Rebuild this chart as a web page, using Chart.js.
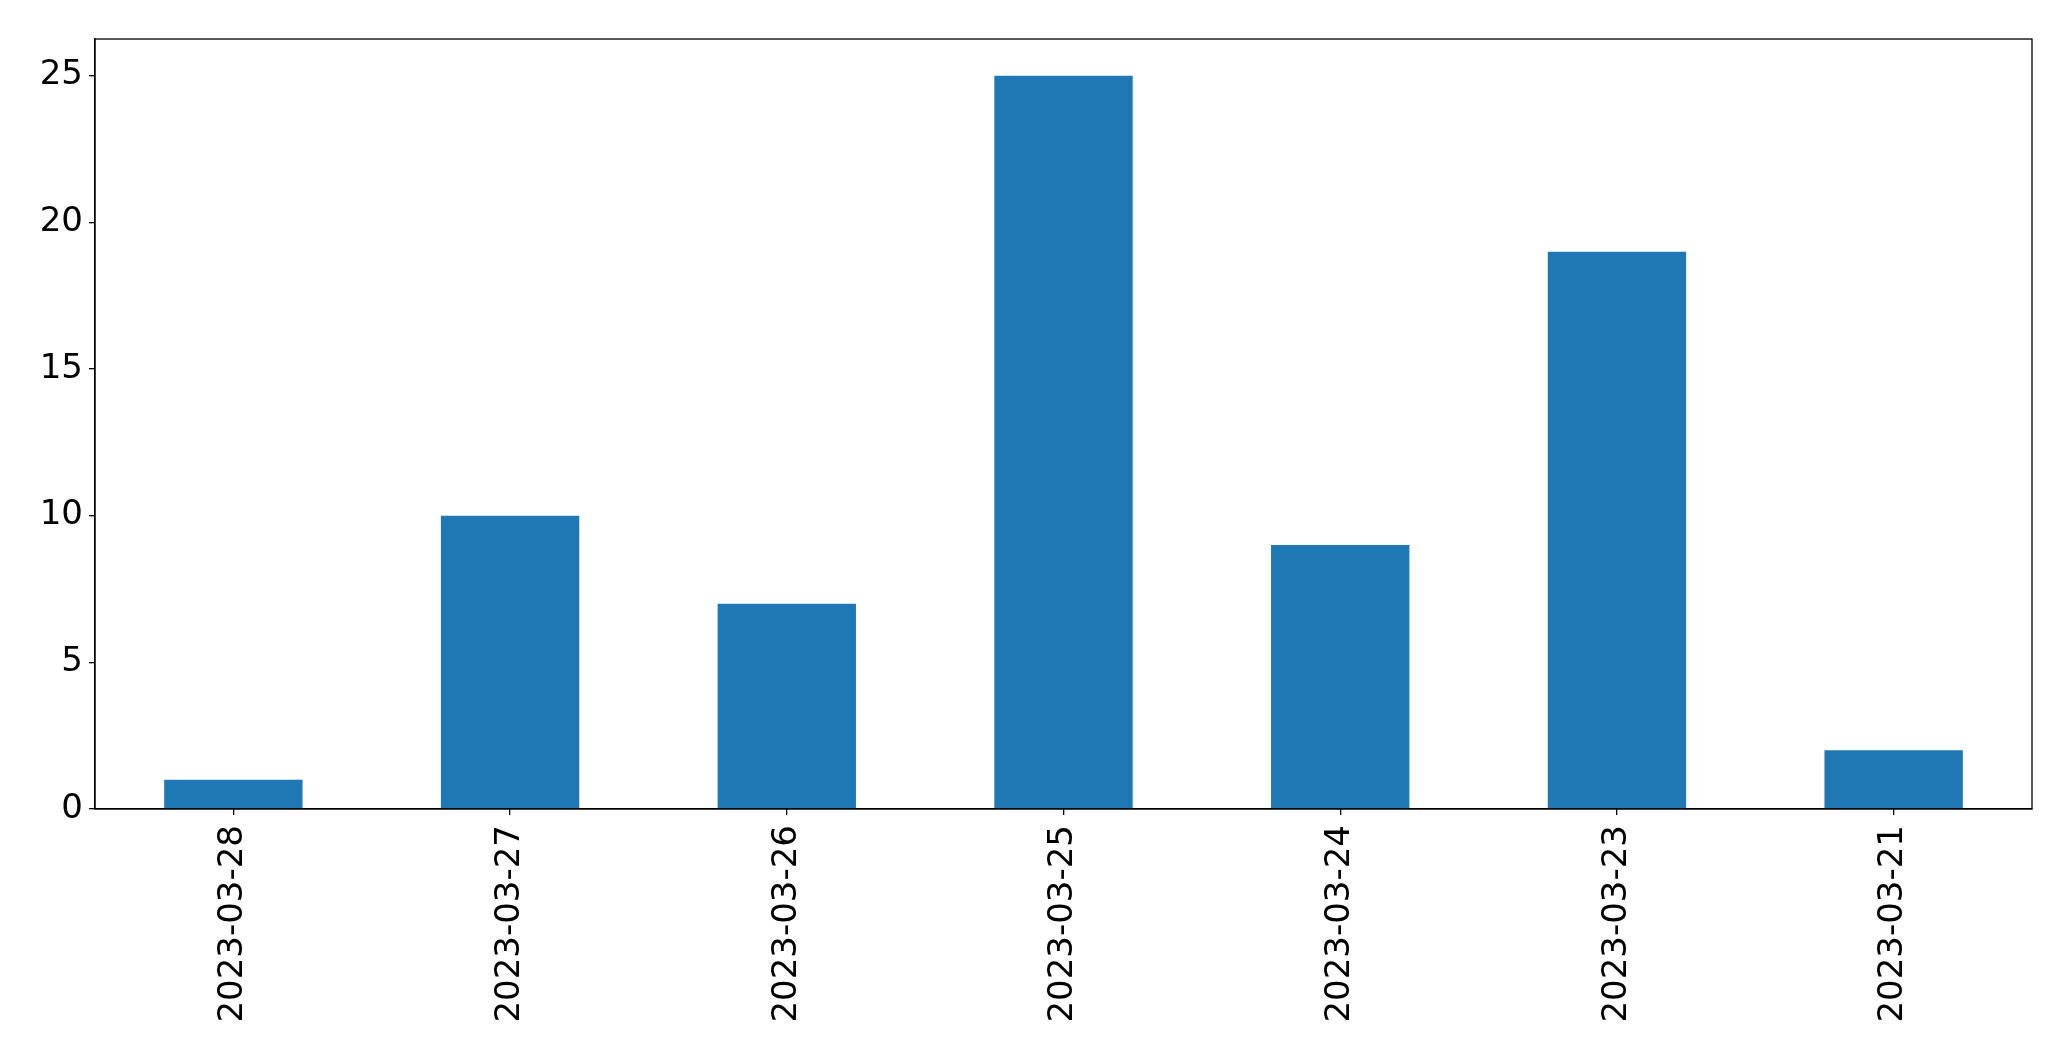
<!DOCTYPE html>
<html>
<head>
<meta charset="utf-8">
<script src="https://cdn.jsdelivr.net/npm/chart.js@4/dist/chart.umd.min.js"></script>
<style>
  html, body { margin: 0; padding: 0; background: #fff; }
  canvas { display: block; }
</style>
</head>
<body>
<canvas id="chart" width="2071" height="1061"></canvas>
<script>
// chart data
const dates = ['2023-03-28', '2023-03-27', '2023-03-26', '2023-03-25', '2023-03-24', '2023-03-23', '2023-03-21'];
const counts = [1, 10, 7, 25, 9, 19, 2];
const yTicks = [0, 5, 10, 15, 20, 25];

// draw the top and right spines too
const frame = {
    id: 'frame',
    afterDatasetsDraw(chart) {
        const a = chart.chartArea;
        const ctx = chart.ctx;
        ctx.save();
        ctx.strokeStyle = '#000';
        ctx.lineWidth = 1.3;
        ctx.strokeRect(a.left, a.top, a.right - a.left, a.bottom - a.top);
        ctx.restore();
    }
};

const ctx = document.getElementById('chart').getContext('2d');
new Chart(ctx, {
    type: 'bar',
    data: {
        labels: dates,
        datasets: [{
            data: counts,
            backgroundColor: '#1f77b4',
            barPercentage: 0.5,
            categoryPercentage: 1.0
        }]
    },
    options: {
        responsive: false,
        animation: false,
        layout: { padding: { top: 39, right: 39, left: 0, bottom: 0 } },
        plugins: { legend: { display: false }, tooltip: { enabled: false } },
        scales: {
            x: {
                grid: { display: true, offset: false, drawOnChartArea: false, drawTicks: true, tickLength: 6, color: '#000', lineWidth: 1.3 },
                border: { display: true, color: '#000', width: 1.3 },
                ticks: {
                    color: '#000',
                    font: { family: 'DejaVu Sans', size: 34 },
                    minRotation: 90,
                    maxRotation: 90,
                    autoSkip: false,
                    padding: 10
                },
                afterFit(scale) { scale.height = 1061 - 809; }
            },
            y: {
                min: 0,
                max: 26.25,
                grid: { display: true, drawOnChartArea: false, drawTicks: true, tickLength: 6, color: '#000', lineWidth: 1.3 },
                border: { display: true, color: '#000', width: 1.3 },
                ticks: {
                    color: '#000',
                    font: { family: 'DejaVu Sans', size: 34 },
                    stepSize: 5,
                    padding: 6
                },
                afterBuildTicks(scale) {
                    scale.ticks = yTicks.map(v => ({ value: v }));
                },
                afterFit(scale) { scale.width = 95; }
            }
        }
    },
    plugins: [frame]
});
</script>
</body>
</html>
